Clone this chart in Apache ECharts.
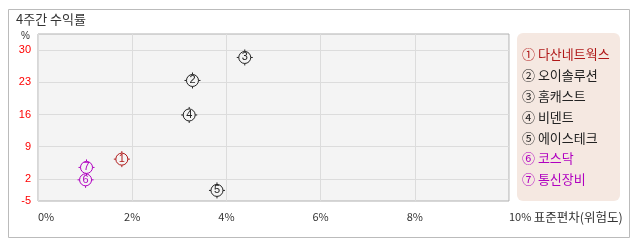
<!DOCTYPE html>
<html><head><meta charset="utf-8">
<script src="https://cdn.jsdelivr.net/npm/echarts@6/dist/echarts.min.js"></script>
<style>html,body{margin:0;padding:0;background:#fff;}#c{width:638px;height:242px;}</style>
</head><body><div id="c"></div>
<script>
const names = ['다산네트웍스','오이솔루션','홈캐스트','비덴트','에이스테크','코스닥','통신장비'];
const circled = ['①','②','③','④','⑤','⑥','⑦'];
const stdDev = [1.78, 3.28, 4.39, 3.21, 3.80, 1.01, 1.03];
const returns = [6.3, 23.4, 28.4, 15.9, -0.5, 1.8, 4.5];
const colors = ['#b01818','#222222','#222222','#222222','#222222','#b000c0','#b000c0'];
const yTicks = [2, 9, 16, 23, 30];
const yMinLabel = '-5';
const xTicks = [0, 2, 4, 6, 8, 10];
const xName = '표준편차(위험도)';
const title = '4주간 수익률';

const yMin = -2.8, yMax = 33.5;
const sym = 'path://M8,2 A6,6 0 1,1 7.99,2 Z M8,0 L8,2 M8,14 L8,16 M0,8 L2,8 M14,8 L16,8';
const font = 'Liberation Sans, Arial, sans-serif';
const kfont = '"Noto Sans CJK KR", sans-serif';

const chart = echarts.init(document.getElementById('c'), null, {renderer:'canvas'});
chart.setOption({
  animation: false,
  backgroundColor: '#fff',
  title: {text: title, left: 16, top: 13, padding: 0,
    textStyle: {fontFamily: kfont, fontSize: 13, fontWeight: 'normal', color: '#333'}},
  graphic: [
    {type:'rect', left: 6, top: 7, shape:{width:621, height:228}, style:{fill:'none', stroke:'#bbbbbb', lineWidth:1}, z: -1},
    {type:'rect', left: 517, top: 33, shape:{width:103, height:168, r:6}, style:{fill:'#f5e8e1'}, z: -1}
  ],
  grid: {left: 38, right: 129, top: 34, bottom: 41, show: true, backgroundColor: '#f4f4f4', borderColor: '#b0b0b0', borderWidth: 1},
  legend: {
    orient: 'vertical', left: 517, top: 47.5, icon: 'none', itemWidth: 0, itemHeight: 14, itemGap: 7.3,
    selectedMode: false, padding: 0,
    data: names.map((n,i)=>({name:n, textStyle:{color: colors[i]}})),
    formatter: n => circled[names.indexOf(n)] + ' ' + n,
    textStyle: {fontFamily: kfont, fontSize: 13}
  },
  xAxis: {
    type: 'value', min: 0, max: 10, interval: 2,
    axisLine: {show: false}, axisTick: {show: false},
    splitLine: {show: true, lineStyle: {color: '#dcdcdc'}},
    axisLabel: {
      margin: 10, color: '#333', fontFamily: kfont, fontSize: 11,
      alignMinLabel: 'left', alignMaxLabel: 'left',
      formatter: v => v === 10 ? '{a|' + v + '%} {b|' + xName + '}' : v + '%',
      rich: {a: {fontFamily: kfont, fontSize: 11, color: '#333'}, b: {fontFamily: kfont, fontSize: 12.5, color: '#333'}}
    }
  },
  yAxis: {
    type: 'value', min: yMin, max: yMax,
    name: '%', nameLocation: 'end', nameGap: -2,
    nameTextStyle: {color: '#333', fontSize: 10, fontFamily: font, align: 'right', padding: [0, 8, 0, 0], verticalAlign: 'middle'},
    axisLine: {show: false},
    axisTick: {show: false, customValues: yTicks},
    splitLine: {show: true, lineStyle: {color: '#dcdcdc'}},
    axisLabel: {
      margin: 7, fontFamily: font, fontSize: 11,
      customValues: [yMin].concat(yTicks),
      formatter: v => v === yMin ? yMinLabel : String(v),
      color: v => (v === yMin || String(v) === yMinLabel) ? '#4444ff' : '#ff0000'
    }
  },
  series: names.map((n,i)=>({
    name: n, type: 'scatter', symbol: sym, symbolSize: 16,
    itemStyle: {color: '#f4f4f4', borderColor: colors[i], borderWidth: 1, opacity: 1},
    label: {show: true, position: 'inside', formatter: String(i+1), color: colors[i], fontSize: 11, fontFamily: font},
    emphasis: {disabled: true},
    data: [[stdDev[i], returns[i]]]
  }))
});
</script></body></html>
